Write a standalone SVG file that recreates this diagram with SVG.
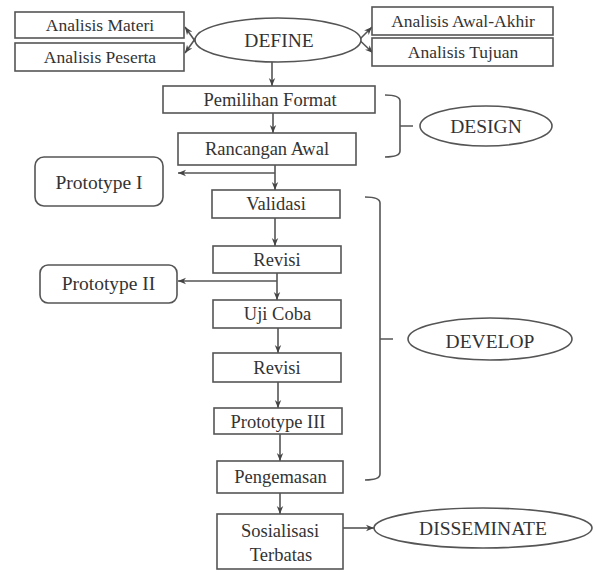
<svg xmlns="http://www.w3.org/2000/svg" width="595" height="572" viewBox="0 0 595 572">
<defs>
<style>
.box{fill:#fff;stroke:#555;stroke-width:1.6}
.ell{fill:#fff;stroke:#555;stroke-width:1.6}
.t{font-family:"Liberation Serif","DejaVu Serif",serif;fill:#333;text-anchor:middle}
.s{font-size:17.5px}
.m{font-size:18.5px}
.l{font-size:19.5px}
.c{fill:none;stroke:#555;stroke-width:1.6}
</style>
<marker id="ah" viewBox="0 0 10 10" refX="10" refY="5" markerWidth="8" markerHeight="8" markerUnits="userSpaceOnUse" orient="auto">
<path d="M0,1 L10,5 L0,9 L3,5 z" fill="#444"/>
</marker>
</defs>
<rect width="595" height="572" fill="#fff"/>

<g id="connectors">
<path class="c" d="M200,48 L185,27" marker-end="url(#ah)"/>
<path class="c" d="M200,32 L185,53" marker-end="url(#ah)"/>
<path class="c" d="M351,48 L372,27" marker-end="url(#ah)"/>
<path class="c" d="M351,32 L373,53" marker-end="url(#ah)"/>
<path class="c" d="M272,62 V86" marker-end="url(#ah)"/>
<path class="c" d="M273,113 V133" marker-end="url(#ah)"/>
<path class="c" d="M275,165 V190" marker-end="url(#ah)"/>
<path class="c" d="M275,173 H178" marker-end="url(#ah)"/>
<path class="c" d="M275,218 V246" marker-end="url(#ah)"/>
<path class="c" d="M277,273 V300" marker-end="url(#ah)"/>
<path class="c" d="M277,281 H178" marker-end="url(#ah)"/>
<path class="c" d="M278,328 V353" marker-end="url(#ah)"/>
<path class="c" d="M278,382 V408" marker-end="url(#ah)"/>
<path class="c" d="M280,434 V461" marker-end="url(#ah)"/>
<path class="c" d="M280,493 V514" marker-end="url(#ah)"/>
<path class="c" d="M343,528 H374" marker-end="url(#ah)"/>
</g>

<g id="brackets">
<path class="c" d="M385,95 Q400,95 400,101 V151 Q400,157 385,157 M400,126 H413"/>
<path class="c" d="M365,197 Q380,197 380,203 V474 Q380,480 365,480 M380,339 H393"/>
</g>

<g id="analisis-materi"><rect class="box" x="15" y="12" width="169" height="26"/><text class="t s" x="100" y="31">Analisis Materi</text></g>
<g id="analisis-peserta"><rect class="box" x="15" y="43" width="169" height="28"/><text class="t s" x="100" y="63">Analisis Peserta</text></g>
<g id="define"><ellipse class="ell" cx="278" cy="40" rx="83" ry="22"/><text class="t l" x="279" y="47">DEFINE</text></g>
<g id="analisis-awal-akhir"><rect class="box" x="372" y="7" width="181" height="28"/><text class="t s" x="463" y="27">Analisis Awal-Akhir</text></g>
<g id="analisis-tujuan"><rect class="box" x="372" y="38" width="181" height="28"/><text class="t s" x="463" y="58">Analisis Tujuan</text></g>
<g id="pemilihan-format"><rect class="box" x="163" y="86" width="212" height="27"/><text class="t m" x="270" y="106">Pemilihan Format</text></g>
<g id="rancangan-awal"><rect class="box" x="178" y="133" width="178" height="32"/><text class="t m" x="267" y="155">Rancangan Awal</text></g>
<g id="design"><ellipse class="ell" cx="486" cy="126" rx="66" ry="20"/><text class="t l" x="486" y="133">DESIGN</text></g>
<g id="prototype-1"><rect class="box" x="35" y="157" width="128" height="49" rx="9"/><text class="t l" x="99" y="189">Prototype I</text></g>
<g id="validasi"><rect class="box" x="212" y="190" width="128" height="28"/><text class="t m" x="276" y="210">Validasi</text></g>
<g id="revisi-1"><rect class="box" x="213" y="246" width="128" height="27"/><text class="t m" x="277" y="266">Revisi</text></g>
<g id="prototype-2"><rect class="box" x="40" y="265" width="137" height="38" rx="8"/><text class="t l" x="108.5" y="290">Prototype II</text></g>
<g id="uji-coba"><rect class="box" x="213" y="300" width="128" height="28"/><text class="t m" x="277.5" y="320">Uji Coba</text></g>
<g id="revisi-2"><rect class="box" x="213" y="353" width="128" height="29"/><text class="t m" x="277" y="374">Revisi</text></g>
<g id="develop"><ellipse class="ell" cx="490" cy="339" rx="82" ry="21"/><text class="t l" x="490" y="348">DEVELOP</text></g>
<g id="prototype-3"><rect class="box" x="214" y="408" width="128" height="26"/><text class="t m" x="278" y="428">Prototype III</text></g>
<g id="pengemasan"><rect class="box" x="217" y="461" width="126" height="32"/><text class="t m" x="280.5" y="483">Pengemasan</text></g>
<g id="sosialisasi-terbatas"><rect class="box" x="217" y="514" width="126" height="55"/><text class="t m" x="280" y="537">Sosialisasi</text><text class="t m" x="281" y="561">Terbatas</text></g>
<g id="disseminate"><ellipse class="ell" cx="483" cy="528" rx="109" ry="20"/><text class="t l" x="483" y="535">DISSEMINATE</text></g>
</svg>
